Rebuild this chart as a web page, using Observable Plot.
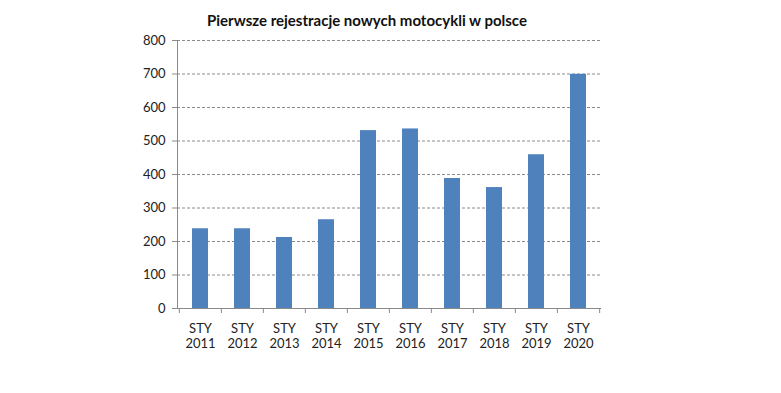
<!DOCTYPE html>
<html>
<head>
<meta charset="utf-8">
<script src="https://cdn.jsdelivr.net/npm/d3@7"></script>
<script src="https://cdn.jsdelivr.net/npm/@observablehq/plot@0.6"></script>
<style>
  html, body { margin: 0; padding: 0; background: #fff; }
</style>
</head>
<body>
<div id="chart"></div>
<script>
const years = ["2011","2012","2013","2014","2015","2016","2017","2018","2019","2020"];
const monthLabel = "STY";
const values = [238, 238, 212, 265, 531, 536, 388, 361, 459, 699];
const yTicks = [0, 100, 200, 300, 400, 500, 600, 700, 800];
const title = "Pierwsze rejestracje nowych motocykli w polsce";

const data = years.map((y, i) => ({cat: y, value: values[i]}));

const W = 781, H = 393;
const mL = 177, mR = 181, mT = 40, mB = 85;
const step = (W - mL - mR) / years.length;
const font = "Lato, 'Liberation Sans', sans-serif";

const chart = Plot.plot({
  width: W,
  height: H,
  marginLeft: mL,
  marginRight: mR,
  marginTop: mT,
  marginBottom: mB,
  style: {fontFamily: font, fontSize: "13px", color: "#222", background: "#fff"},
  x: {type: "band", domain: years, paddingInner: 0.62, paddingOuter: 0.31, align: 0.5, axis: null},
  y: {domain: [0, 800], axis: null},
  marks: [
    // dashed gridlines
    Plot.gridY(yTicks.filter(d => d > 0), {stroke: "#8a8a8a", strokeOpacity: 1, strokeDasharray: "3,2", strokeWidth: 1}),
    Plot.barY(data, {x: "cat", y: "value", fill: "#4F81BD"}),
    // y axis
    Plot.axisY(yTicks, {tickSize: 5, tickPadding: 7, stroke: "#8a8a8a", fontSize: 13, fill: "#222", tickFormat: d => d, label: null}),
    Plot.frame({anchor: "left", stroke: "#8a8a8a"}),
    Plot.frame({anchor: "bottom", stroke: "#8a8a8a"}),
    // category boundary ticks
    Plot.ruleX(years, {x: d => d, y1: 0, y2: 0, dx: -step / 2, insetBottom: -5, stroke: "#8a8a8a"}),
    Plot.ruleX([years[years.length - 1]], {x: d => d, y1: 0, y2: 0, dx: step / 2, insetBottom: -5, stroke: "#8a8a8a"}),
    // x labels
    Plot.text(years, {x: d => d, frameAnchor: "bottom", text: d => monthLabel + "\n" + d, dy: 13, lineAnchor: "top", lineHeight: 1.2, fontSize: 13, fill: "#222"}),
    // title
    Plot.text([title], {frameAnchor: "top", text: d => d, dy: -19, lineAnchor: "middle", fontWeight: "bold", fontSize: 15, fill: "#111", dx: -22})
  ]
});
document.getElementById("chart").appendChild(chart);
</script>
</body>
</html>
